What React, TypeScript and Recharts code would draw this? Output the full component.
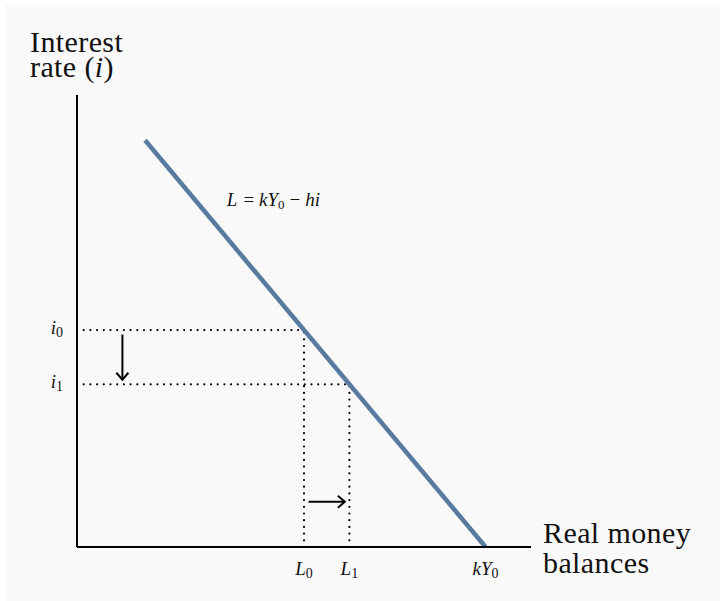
import React from 'react';
import { LineChart, Line, XAxis, YAxis, ReferenceLine, ReferenceDot } from 'recharts';

// money demand line L = kY0 - hi, end points in (money, rate) units
const demandLine = [
  { money: 15, rate: 90 },
  { money: 90, rate: 0 },
];

const moneyTicks = [50, 60, 90];
const moneyTickNames: Record<number, [string, string]> = { 50: ['L', '0'], 60: ['L', '1'], 90: ['kY', '0'] };
const rateTicks = [48, 36];
const rateTickNames: Record<number, [string, string]> = { 48: ['i', '0'], 36: ['i', '1'] };

const L0 = 50;
const L1 = 60;
const i0 = 48;
const i1 = 36;
// arrows showing the move from i0 to i1 and from L0 to L1
const rateArrow = { money: 10, from: 47, to: 37 };
const moneyArrow = { rate: 10, from: 51, to: 59 };

const SERIF = '"Liberation Serif", "Times New Roman", serif';
const LINE_COLOR = '#587a9e';

const XTick = (props: any) => {
  const { x, payload } = props;
  const [main, sub] = moneyTickNames[payload.value] || ['', ''];
  return (
    <text x={x} y={575} textAnchor="middle" fontFamily={SERIF} fontSize={19} fill="#111">
      <tspan fontStyle="italic">{main}</tspan>
      <tspan fontSize={14} dy={3}>{sub}</tspan>
    </text>
  );
};

const YTick = (props: any) => {
  const { y, payload } = props;
  const [main, sub] = rateTickNames[payload.value] || ['', ''];
  return (
    <text x={63} y={y + 4} textAnchor="end" fontFamily={SERIF} fontSize={19} fill="#111">
      <tspan fontStyle="italic">{main}</tspan>
      <tspan fontSize={14} dy={3}>{sub}</tspan>
    </text>
  );
};

const Arrow = (props: any) => {
  const { x1, y1, x2, y2 } = props;
  const dx = x2 - x1;
  const dy = y2 - y1;
  const len = Math.sqrt(dx * dx + dy * dy) || 1;
  const ux = dx / len;
  const uy = dy / len;
  const hx = x2 - ux * 7;
  const hy = y2 - uy * 7;
  const px = -uy * 6;
  const py = ux * 6;
  return (
    <g>
      <line x1={x1} y1={y1} x2={x2} y2={y2} stroke="#000" strokeWidth={2} />
      <path d={`M${hx + px},${hy + py} L${x2},${y2} L${hx - px},${hy - py}`} fill="none" stroke="#000" strokeWidth={2} />
    </g>
  );
};

const dotted = { stroke: '#000', strokeWidth: 2.2, strokeDasharray: '0 6.7', strokeLinecap: 'round' as const };

export default function App() {
  return (
    <div style={{ position: 'absolute', left: 0, top: 0, width: 723, height: 601, background: '#fff' }}>
      <div style={{ position: 'absolute', left: 5, top: 5, width: 715, height: 596, background: '#f9f9f9' }} />
      <div style={{ position: 'absolute', left: 0, top: 0 }}>
        <LineChart width={723} height={601} data={demandLine} margin={{ top: 95, right: 192, bottom: 0, left: 17 }}>
          <XAxis
            dataKey="money"
            type="number"
            domain={[0, 100]}
            ticks={moneyTicks}
            tick={<XTick />}
            tickLine={false}
            height={54}
            axisLine={{ stroke: '#000', strokeWidth: 2 }}
            label={{
              content: () => (
                <text fontFamily={SERIF} fontSize={30} letterSpacing={0.4} fill="#111">
                  <tspan x={543} y={543}>Real money</tspan>
                  <tspan x={543} y={573}>balances</tspan>
                </text>
              ),
            }}
          />
          <YAxis
            dataKey="rate"
            type="number"
            domain={[0, 100]}
            ticks={rateTicks}
            tick={<YTick />}
            tickLine={false}
            width={60}
            axisLine={{ stroke: '#000', strokeWidth: 2 }}
            label={{
              content: () => (
                <text fontFamily={SERIF} fontSize={30} letterSpacing={0.4} fill="#111">
                  <tspan x={30} y={52}>Interest</tspan>
                  <tspan x={30} y={77}>rate (</tspan>
                  <tspan fontStyle="italic">i</tspan>
                  <tspan>)</tspan>
                </text>
              ),
            }}
          />
          <ReferenceLine segment={[{ x: 0, y: i0 }, { x: L0, y: i0 }]} {...dotted} />
          <ReferenceLine segment={[{ x: L0, y: 0 }, { x: L0, y: i0 }]} {...dotted} />
          <ReferenceLine segment={[{ x: 0, y: i1 }, { x: L1, y: i1 }]} {...dotted} />
          <ReferenceLine segment={[{ x: L1, y: 0 }, { x: L1, y: i1 }]} {...dotted} />
          <ReferenceLine
            segment={[{ x: rateArrow.money, y: rateArrow.from }, { x: rateArrow.money, y: rateArrow.to }]}
            shape={(p: any) => <Arrow {...p} />}
          />
          <ReferenceLine
            segment={[{ x: moneyArrow.from, y: moneyArrow.rate }, { x: moneyArrow.to, y: moneyArrow.rate }]}
            shape={(p: any) => <Arrow {...p} />}
          />
          <Line type="linear" dataKey="rate" stroke={LINE_COLOR} strokeWidth={4.5} dot={false} isAnimationActive={false} />
          <ReferenceDot
            x={33}
            y={75.5}
            r={0}
            fill="none"
            stroke="none"
            label={{
              content: (p: any) => {
                const vb = p.viewBox || { x: 0, y: 0 };
                return (
                  <text x={vb.x} y={vb.y} fontFamily={SERIF} fontSize={19} fill="#111">
                    <tspan fontStyle="italic">L</tspan>
                    <tspan dx={6}>=</tspan>
                    <tspan dx={5}>
                      <tspan fontStyle="italic">kY</tspan>
                    </tspan>
                    <tspan fontSize={13} dy={3}>0</tspan>
                    <tspan dx={5} dy={-3}>−</tspan>
                    <tspan dx={5} fontStyle="italic">hi</tspan>
                  </text>
                );
              },
            }}
          />
        </LineChart>
      </div>
    </div>
  );
}
